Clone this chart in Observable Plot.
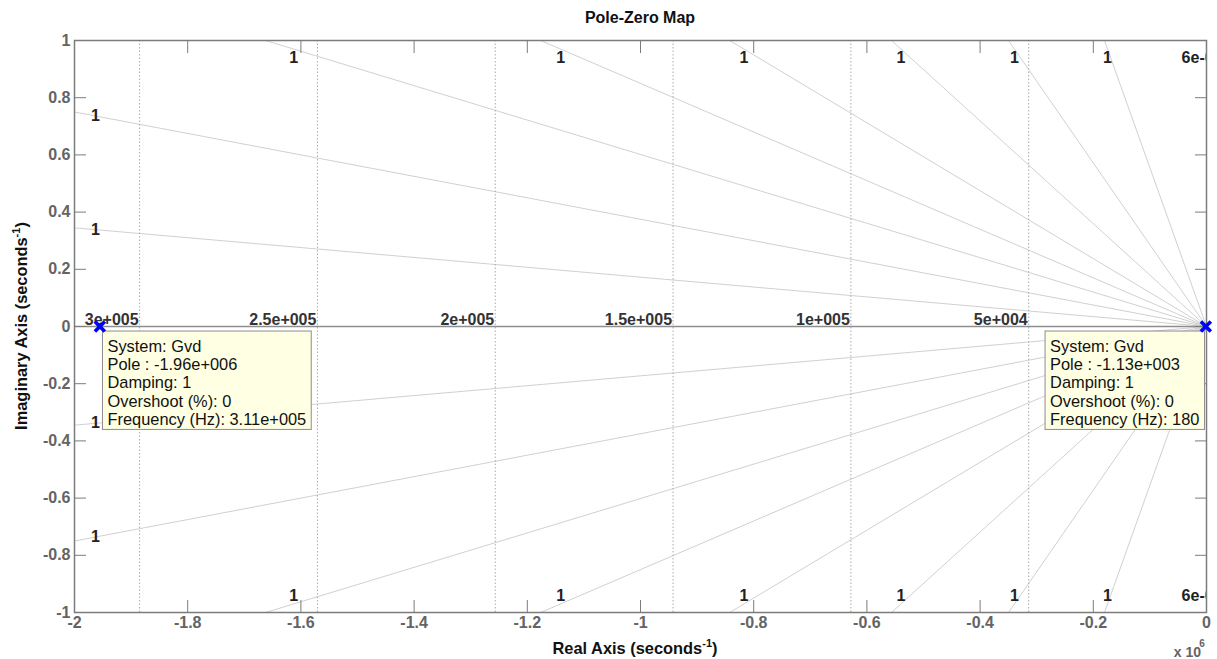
<!DOCTYPE html>
<html>
<head>
<meta charset="utf-8">
<script src="https://cdn.jsdelivr.net/npm/d3@7"></script>
<script src="https://cdn.jsdelivr.net/npm/@observablehq/plot@0.6"></script>
<style>
  html, body { margin: 0; padding: 0; background: #fff; }
  #chart svg { display: block; }
</style>
</head>
<body>
<div id="chart"></div>
<script>
// System under inspection and its poles (seconds^-1), both on the real axis
const systemName = "Gvd";
const poleReal = [-1.9552e6, -1.13e3];
const poleTipSide = ["right", "left"];

// Constant-damping grid rays, given as |Im| per unit |Re|
const dampingSlopes = [1.725e-7, 3.75e-7, 6.015e-7, 8.50e-7, 1.187e-6, 1.797e-6, 2.859e-6, 5.55e-6, 1.667e6];

// Natural-frequency grid (Hz)
const gridFreqHz = [3e5, 2.5e5, 2e5, 1.5e5, 1e5, 5e4];

// Axis ticks (real axis in units of 1e6)
const xTicksMillions = [-2, -1.8, -1.6, -1.4, -1.2, -1, -0.8, -0.6, -0.4, -0.2, 0];
const yTicks = [-1, -0.8, -0.6, -0.4, -0.2, 0, 0.2, 0.4, 0.6, 0.8, 1];
const xDomain = [-2e6, 0];
const yDomain = [-1, 1];

const FONT = "'Liberation Sans', Arial, Helvetica, sans-serif";
const TIP_FONT_SIZE = 16.4;

// %.3g with a three-digit exponent
function fmtG(v) {
  const s = d3.format(".3~g")(v).replace("\u2212", "-");
  return s.replace(/e([+-])(\d+)$/, (m, sg, d) => "e" + sg + d.padStart(3, "0"));
}

// Build the damping rays, clipped to the axes limits
const xMin = xDomain[0], yMax = yDomain[1];
const rays = [];
for (const s of dampingSlopes) {
  for (const sign of [1, -1]) {
    const endsLeft = s * -xMin <= yMax;
    const xEnd = endsLeft ? xMin : -yMax / s;
    const yEnd = sign * -xEnd * s;
    const zeta = 1 / Math.sqrt(1 + s * s);
    const side = endsLeft ? "left" : (sign > 0 ? "top" : "bottom");
    const t = endsLeft ? 0.9814 : 0.97;
    rays.push({x1: 0, y1: 0, x2: xEnd, y2: yEnd, side,
               lx: xEnd * t, ly: yEnd * t, label: fmtG(zeta)});
  }
}

// Width of a string in the data-tip font
const measureCtx = document.createElement("canvas").getContext("2d");
measureCtx.font = `${TIP_FONT_SIZE}px ${FONT}`;
const textWidth = s => measureCtx.measureText(s).width;

// Data tips for the poles
const tips = poleReal.map((p, i) => {
  const zeta = p < 0 ? 1 : -1;
  const overshoot = zeta >= 1 ? 0 : 100 * Math.exp(-Math.PI * zeta / Math.sqrt(1 - zeta * zeta));
  const lines = [
    `System: ${systemName}`,
    `Pole : ${fmtG(p)}`,
    `Damping: ${fmtG(zeta)}`,
    `Overshoot (%): ${fmtG(overshoot)}`,
    `Frequency (Hz): ${fmtG(Math.abs(p) / (2 * Math.PI))}`
  ];
  return {x: p, side: poleTipSide[i], text: lines.join("\n"), width: d3.max(lines, textWidth)};
});

const tipMarks = tips.map(d => Plot.text([d], {
  x: "x", y: () => 0, text: "text", textAnchor: "start", lineAnchor: "top",
  dx: d.side === "right" ? 7.6 : -(d.width + 6.4), dy: 12,
  fontSize: TIP_FONT_SIZE, lineHeight: 18.35 / TIP_FONT_SIZE, fill: "#111", ariaDescription: "datatip"
}));

const labelStyle = {x: "lx", y: "ly", text: "label", textAnchor: "middle",
  fontSize: 16, fontWeight: "bold", fill: "#222", clip: true};

const axisStyle = {fontSize: 16, fontWeight: "bold", fill: "#646464", stroke: "#7c7c7c"};

const chart = Plot.plot({
  width: 1217,
  height: 659,
  marginTop: 40,
  marginRight: 11,
  marginBottom: 47,
  marginLeft: 74,
  style: {fontFamily: FONT, fontSize: "16px", background: "#fff", color: "#222"},
  x: {domain: xDomain},
  y: {domain: yDomain},
  marks: [
    // damping rays
    Plot.link(rays, {x1: "x1", y1: "y1", x2: "x2", y2: "y2", stroke: "#c4c4c4", strokeWidth: 0.8}),
    // natural-frequency lines
    Plot.ruleX(gridFreqHz, {x: f => -2 * Math.PI * f, stroke: "#aaaaaa", strokeWidth: 1, strokeDasharray: "1.5,2"}),
    // real axis
    Plot.ruleY([0], {stroke: "#8e8e8e", strokeWidth: 1.5}),
    // natural-frequency labels
    Plot.text(gridFreqHz, {x: f => -2 * Math.PI * f, y: 0, text: f => fmtG(f), textAnchor: "end",
      lineAnchor: "bottom", dx: -1, dy: -2, fontSize: 16, fontWeight: "bold", fill: "#333"}),
    // damping labels along the top, bottom and left edges
    Plot.text(rays.filter(d => d.side === "top"), {...labelStyle, dy: 9}),
    Plot.text(rays.filter(d => d.side === "bottom"), {...labelStyle, dy: -8}),
    Plot.text(rays.filter(d => d.side === "left"), labelStyle),
    // axes box with inward ticks
    Plot.frame({stroke: "#7c7c7c", strokeWidth: 1.5}),
    Plot.axisX({anchor: "bottom", ticks: xTicksMillions.map(v => v * 1e6), tickFormat: d => String(d / 1e6),
      tickSize: -12, tickPadding: 16, label: null, ...axisStyle}),
    Plot.axisX({anchor: "top", ticks: xTicksMillions.map(v => v * 1e6), tickSize: -12, stroke: "#7c7c7c", fill: "none", label: null}),
    Plot.axisY({anchor: "left", ticks: yTicks, tickFormat: d => String(d),
      tickSize: -12, tickPadding: 16, label: null, ...axisStyle}),
    Plot.axisY({anchor: "right", ticks: yTicks, tickSize: -12, stroke: "#7c7c7c", fill: "none", label: null}),
    // data tips
    ...tipMarks,
    // poles
    Plot.dot(poleReal, {x: d => d, y: () => 0, symbol: "times", r: 4.6, stroke: "#0000ff", strokeWidth: 3.6})
  ]
});

document.getElementById("chart").appendChild(chart);

const svg = d3.select(chart);
const NS = "http://www.w3.org/2000/svg";

// yellow boxes behind the data tip text
svg.selectAll('g[aria-description="datatip"] text').each(function () {
  const b = this.getBBox();
  const r = document.createElementNS(NS, "rect");
  r.setAttribute("x", b.x - 5);
  r.setAttribute("y", b.y - 5.5);
  r.setAttribute("width", b.width + 10);
  r.setAttribute("height", b.height + 7);
  r.setAttribute("fill", "#ffffe3");
  r.setAttribute("stroke", "#8c8c8c");
  r.setAttribute("stroke-width", 1);
  const tr = this.getAttribute("transform");
  if (tr) r.setAttribute("transform", tr);
  this.parentNode.insertBefore(r, this);
});

// title and axis titles
const W = 1217, H = 659, mL = 74, mR = 11, mT = 40, mB = 47;
const cx = (mL + W - mR) / 2, cy = (mT + H - mB) / 2;

svg.append("text")
  .attr("x", cx).attr("y", 23).attr("text-anchor", "middle")
  .attr("font-family", FONT).attr("font-size", 16).attr("font-weight", "bold").attr("fill", "#111")
  .text("Pole-Zero Map");

function axisTitle(sel, main) {
  sel.attr("font-family", FONT).attr("font-size", 16.4).attr("font-weight", "bold").attr("fill", "#111")
    .attr("text-anchor", "middle");
  sel.append("tspan").text(main + " (seconds");
  sel.append("tspan").attr("font-size", 11).attr("dy", -7).text("-1");
  sel.append("tspan").attr("dy", 7).text(")");
}

svg.append("text").attr("x", cx - 5).attr("y", 654).call(axisTitle, "Real Axis");
svg.append("text").attr("transform", `translate(27,${cy}) rotate(-90)`).call(axisTitle, "Imaginary Axis");

// exponent of the real axis
svg.append("text").attr("x", 1201).attr("y", 657).attr("text-anchor", "end")
  .attr("font-family", FONT).attr("font-size", 14).attr("font-weight", "bold").attr("fill", "#646464")
  .text("x 10");
svg.append("text").attr("x", 1202).attr("y", 647)
  .attr("font-family", FONT).attr("font-size", 10).attr("font-weight", "bold").attr("fill", "#646464")
  .text("6");
</script>
</body>
</html>
